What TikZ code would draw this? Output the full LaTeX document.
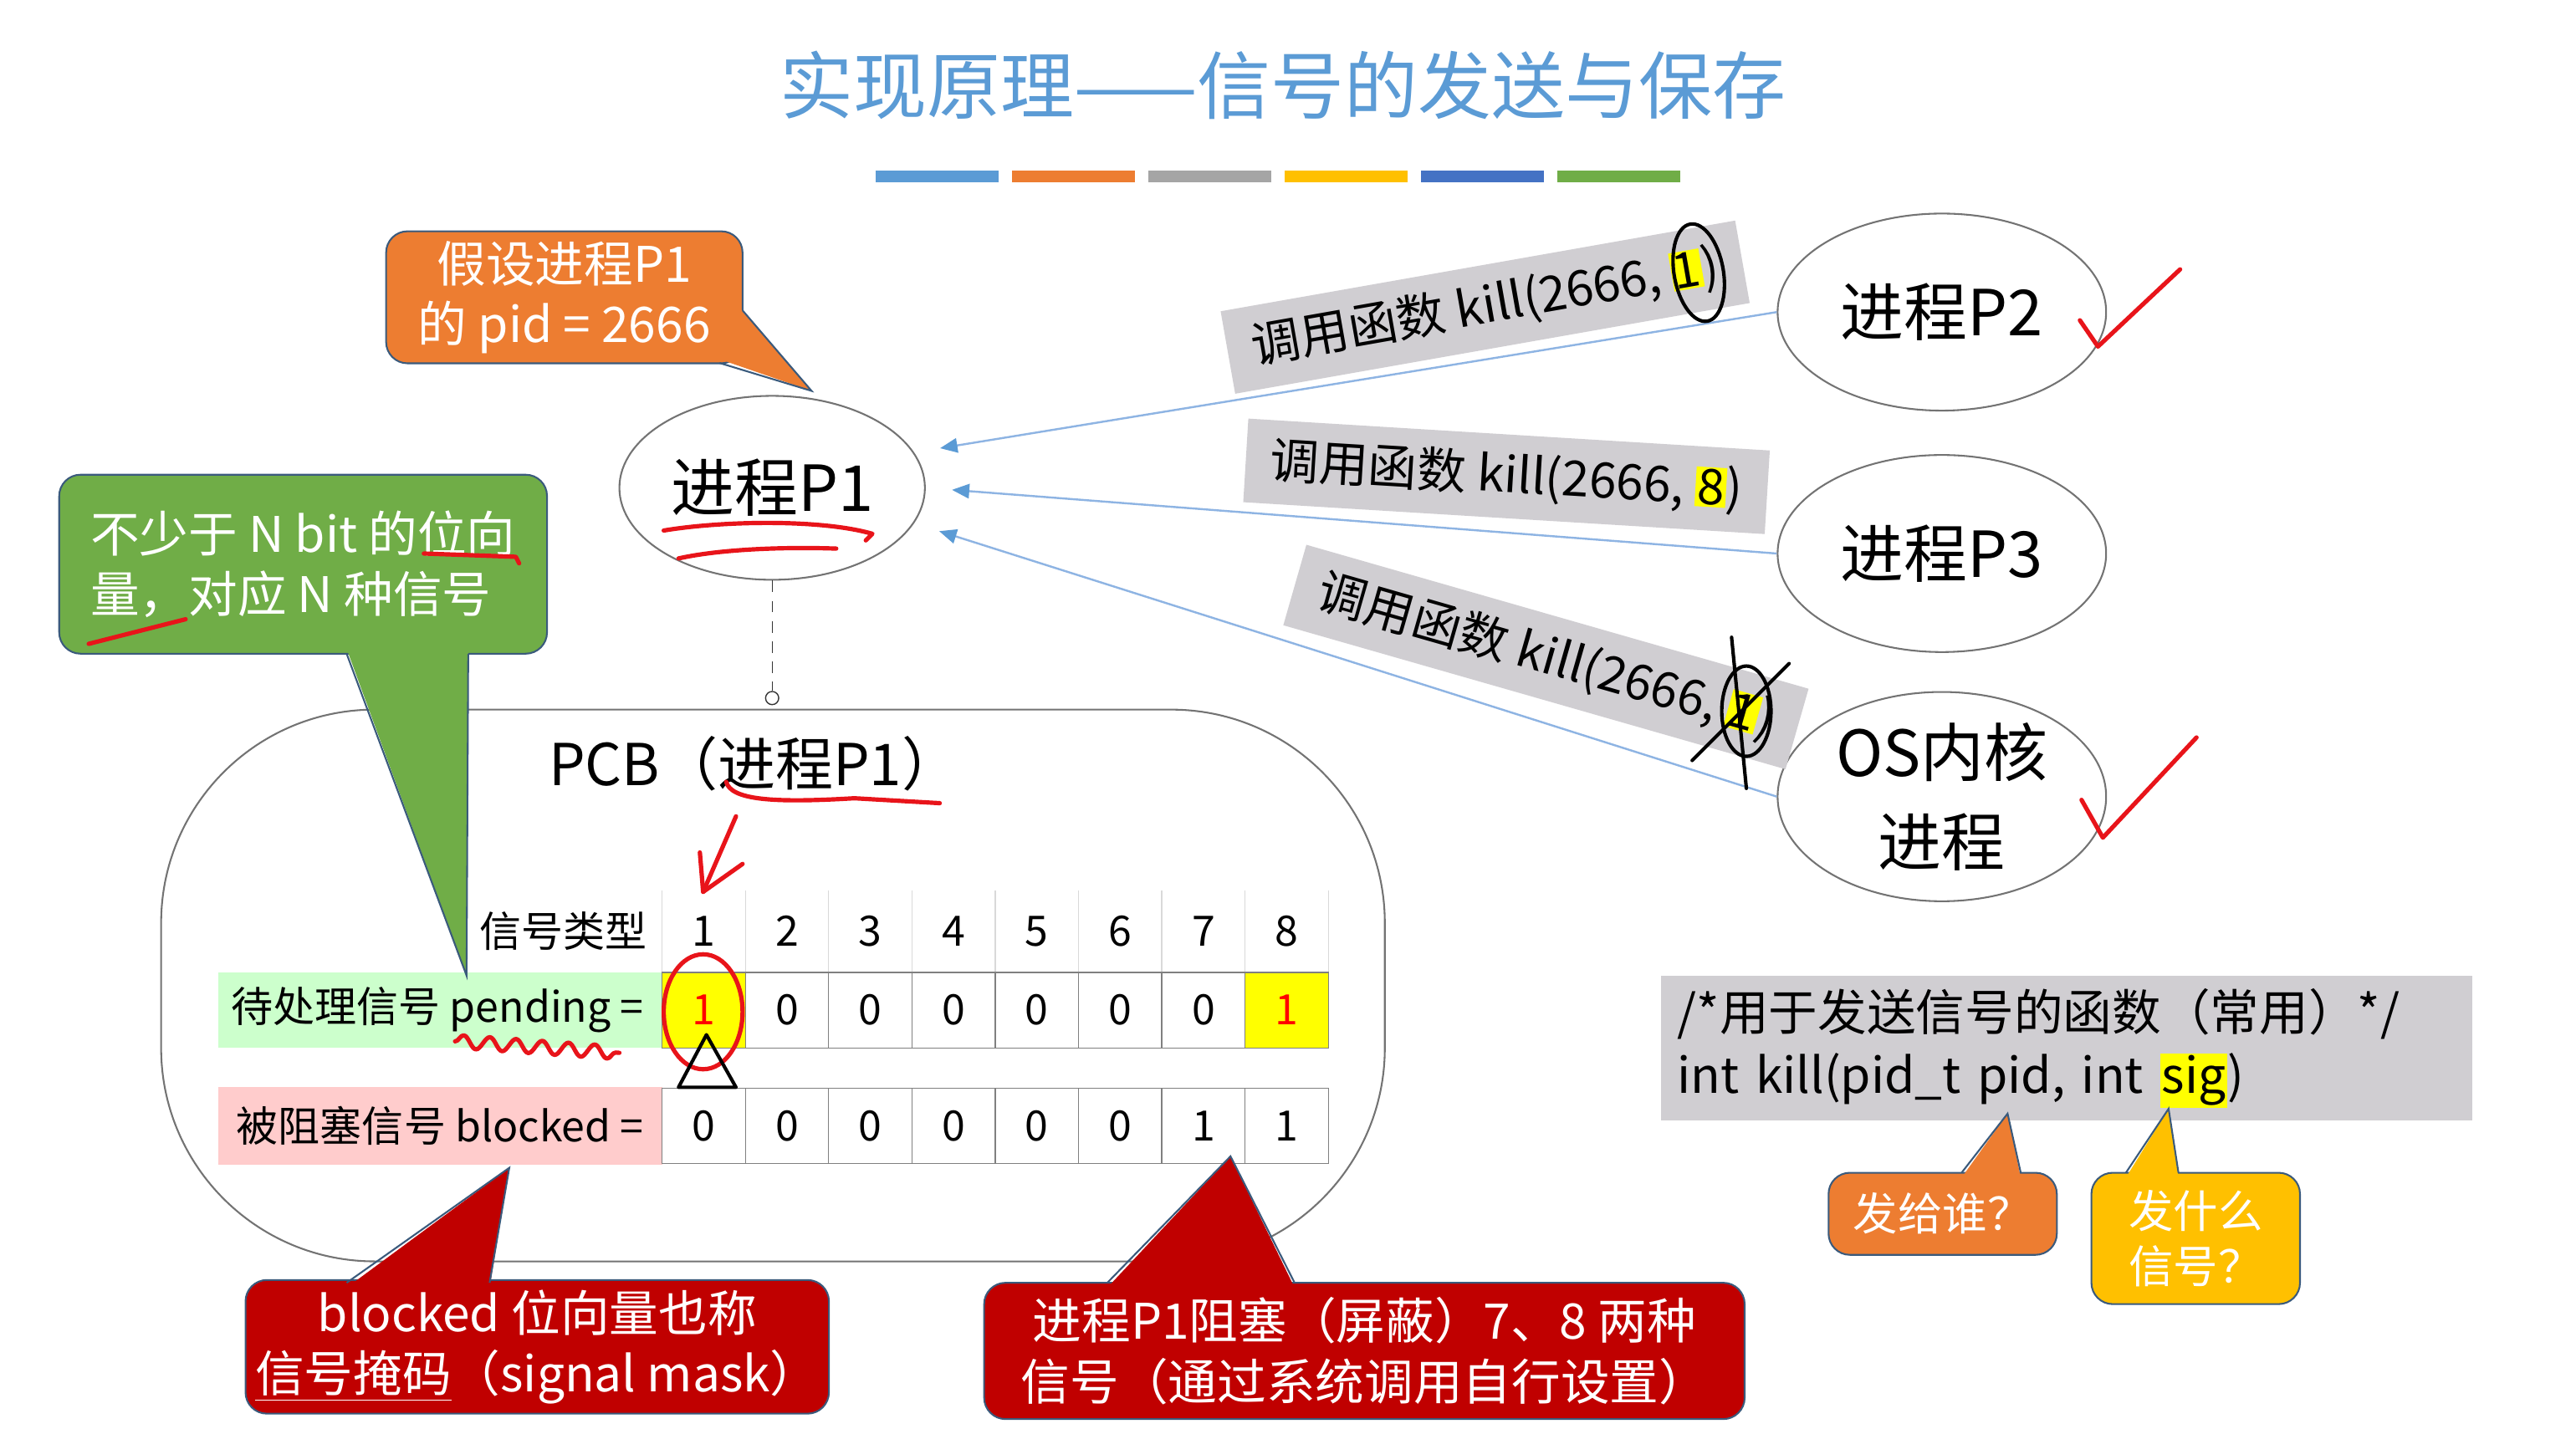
\documentclass[tikz,border=0pt]{standalone}
\usepackage{fontspec}
\setmainfont{Noto Sans CJK SC}
\usetikzlibrary{shapes.geometric, arrows.meta, decorations.pathmorphing}

\definecolor{titleblue}{HTML}{5B9BD5}
\definecolor{accorange}{HTML}{ED7D31}
\definecolor{accgray}{HTML}{A5A5A5}
\definecolor{accgold}{HTML}{FFC000}
\definecolor{accblue}{HTML}{4472C4}
\definecolor{accgreen}{HTML}{70AD47}
\definecolor{accred}{HTML}{C00000}
\definecolor{edgeblue}{HTML}{3A5A7C}
\definecolor{lblgray}{HTML}{D0CED2}
\definecolor{hlyellow}{HTML}{FFFF00}
\definecolor{pendgreen}{HTML}{CCFFCC}
\definecolor{blkpink}{HTML}{FFCCCC}
\definecolor{linkblue}{HTML}{8EB4E3}
\definecolor{inkred}{HTML}{E8141A}

\newcommand{\hl}[1]{{\setlength{\fboxsep}{0.6pt}\colorbox{hlyellow}{#1}}}

\tikzset{
  proc/.style={ellipse, draw=black!55, line width=0.6pt, inner sep=0pt,
    font=\fontsize{22}{31}\selectfont, align=center},
  sigline/.style={linkblue, line width=0.7pt,
    -{Triangle[length=6pt,width=5pt,color=titleblue]}, shorten >=0.32cm},
  calllbl/.style={fill=lblgray, font=\fontsize{17}{20}\selectfont,
    inner xsep=0.3cm, inner ysep=0.2cm},
  callbox/.style={rounded corners=0.26cm, draw=edgeblue, line width=0.6pt,
    text=white, align=center, font=\fontsize{17}{21}\selectfont},
  tailedge/.style={edgeblue, line width=0.6pt},
  cell/.style={draw=black!50, minimum width=1.014cm, minimum height=0.92cm,
    inner sep=0pt, font=\fontsize{14.5}{16}\selectfont},
  ink/.style={inkred, line width=1.5pt, line cap=round, line join=round},
  pen/.style={black, line width=1.2pt, line cap=round, line join=round}
}

\begin{document}
\begin{tikzpicture}[x=0.02cm, y=-0.02cm]
  \useasboundingbox (0,0) rectangle (1568,873);
  \fill[white] (0,0) rectangle (1568,873);

  % title and colour bars
  \node[text=titleblue, font=\fontsize{25.5}{30}\selectfont] (title) at (781,52) {实现原理——信号的发送与保存};
  \foreach \c [count=\i] in {titleblue,accorange,accgray,accgold,accblue,accgreen}
    \fill[\c] ({533+83*(\i-1)},104) rectangle +(75,7);

  % processes
  \node[proc, minimum width=3.72cm, minimum height=2.24cm] (p1) at (470,297) {进程P1};
  \node[proc, minimum width=4cm, minimum height=2.4cm] (p2) at (1182,190) {进程P2};
  \node[proc, minimum width=4cm, minimum height=2.4cm] (p3) at (1182,337) {进程P3};
  \node[proc, minimum width=4cm, minimum height=2.4cm] (os) at (1182,485) {OS内核\\进程};

  % kill calls
  \draw[sigline] (p2.west) -- (p1.14);
  \draw[sigline] (p3.west) -- (p1.east);
  \draw[sigline] (os.west) -- (p1.-14);
  \node[calllbl, rotate=10] (killa) at (904,187) {调用函数 kill(2666, \hl{1})};
  \node[calllbl, rotate=-3.5] (killb) at (917,290) {调用函数 kill(2666, \hl{8})};
  \node[calllbl, rotate=-16] (killc) at (941,400) {调用函数 kill(2666, \hl{1})};

  % pid note
  \node[callbox, fill=accorange, minimum width=4.34cm, minimum height=1.6cm] (pidnote) at (343.5,181) {假设进程P1\\的 pid = 2666};
  \fill[accorange] (449,186) -- (494,238) -- (436,218) -- cycle;
  \draw[tailedge] (452,189) -- (494,238) -- (438,221);

  % PCB
  \node[circle, draw=black!80, fill=white, inner sep=0pt, minimum size=0.16cm] (pcbdot) at (470,425) {};
  \draw[black!80, dash pattern=on 4pt off 3pt] (p1.south) -- (pcbdot.north);
  \node[draw=black!55, line width=0.6pt, rounded corners=2.6cm, minimum width=14.9cm, minimum height=6.72cm] (pcb) at (470.5,600) {};
  \node[font=\fontsize{20}{24}\selectfont] (pcbtitle) at (459,465) {PCB（进程P1）};

  % signal table
  \node[font=\fontsize{14.5}{16}\selectfont] (sigtype) at (343,567) {信号类型};
  \foreach \k in {0,...,8}
    \draw[black!15] ({403+50.7*\k},542) -- ({403+50.7*\k},592);
  \fill[pendgreen] (133,592) rectangle (403,638);
  \fill[blkpink] (133,662) rectangle (403,709);
  \node[anchor=east, font=\fontsize{14.5}{16}\selectfont] (pendlbl) at (398,615) {待处理信号 pending =};
  \node[anchor=east, font=\fontsize{14.5}{16}\selectfont] (blklbl) at (398,685.5) {被阻塞信号 blocked =};
  \foreach \i in {1,...,8}
    \node[font=\fontsize{14.5}{16}\selectfont] (hdr\i) at ({428.35+50.7*(\i-1)},567) {\i};
  \foreach \v/\f/\c [count=\i] in {1/hlyellow/red,0/white/black,0/white/black,0/white/black,
                                   0/white/black,0/white/black,0/white/black,1/hlyellow/red}
    \node[cell, fill=\f, text=\c] (pend\i) at ({428.35+50.7*(\i-1)},615) {\v};
  \foreach \v [count=\i] in {0,0,0,0,0,0,1,1}
    \node[cell, fill=white] (blk\i) at ({428.35+50.7*(\i-1)},685.5) {\v};

  % bit vector note
  \node[callbox, fill=accgreen, align=left, minimum width=5.94cm, minimum height=2.18cm] (bitnote) at (184.5,343.5) {不少于 N bit 的位向\\量，对应 N 种信号};
  \fill[accgreen] (211,395) -- (284,594) -- (285,395) -- cycle;
  \draw[tailedge] (211,398) -- (284,594) -- (285,398);

  % mask notes
  \node[callbox, fill=accred, minimum width=6.92cm, minimum height=1.56cm] (masknote) at (327,820) {blocked 位向量也称\\\underline{信号掩码}（signal mask）};
  \fill[accred] (211,784) -- (310,711) -- (298,784) -- cycle;
  \draw[tailedge] (211,781) -- (310,711) -- (298,781);
  \node[callbox, fill=accred, minimum width=9.26cm, minimum height=1.66cm] (blknote) at (830.5,822.5) {进程P1阻塞（屏蔽）7、8 两种\\信号（通过系统调用自行设置）};
  \fill[accred] (674,784) -- (749,704) -- (788,784) -- cycle;
  \draw[tailedge] (674,781) -- (749,704) -- (788,781);

  % kill prototype
  \node[fill=lblgray, minimum width=9.88cm, minimum height=1.76cm, text width=9.48cm, inner xsep=0.2cm,
    align=left, font=\fontsize{17}{22}\selectfont] (code) at (1258,638) {/*用于发送信号的函数（常用）*/\\int kill(pid\_t pid, int \hl{sig})};
  \node[callbox, fill=accorange, minimum width=2.78cm, minimum height=1cm, font=\fontsize{15.5}{19}\selectfont] (whonote) at (1182.5,739) {发给谁？};
  \fill[accorange] (1194,717) -- (1222,678) -- (1230,717) -- cycle;
  \draw[tailedge] (1194,714) -- (1222,678) -- (1230,714);
  \node[callbox, fill=accgold, minimum width=2.54cm, minimum height=1.6cm, font=\fontsize{15.5}{19}\selectfont] (whatnote) at (1336.5,754) {发什么\\信号？};
  \fill[accgold] (1294,717) -- (1320,675) -- (1326,717) -- cycle;
  \draw[tailedge] (1294,714) -- (1320,675) -- (1326,714);

  % hand marks
  \draw[ink] (404,323) .. controls (440,317) and (500,316) .. (531,325) -- (527,329);
  \draw[ink] (413,340) .. controls (440,334) and (480,333) .. (509,334);
  \draw[ink] (258,337) -- (314,339) -- (316,343);
  \draw[ink] (54,392) -- (113,377);
  \draw[ink] (442,476) .. controls (445,487) and (470,489) .. (520,486) -- (572,489);
  \draw[ink] (448,497) -- (428,543);
  \draw[ink] (426,519) -- (428,543) -- (452,526);
  \draw[ink] (428,616) ellipse [x radius=0.48cm, y radius=0.7cm];
  \draw[ink, decorate, decoration={snake, segment length=0.32cm, amplitude=0.08cm}] (277,634) -- (377,641);
  \draw[pen] (430,630) -- (413,662) -- (448,662) -- cycle;
  \draw[pen, rotate around={10:(1034,166)}] (1034,166) ellipse [x radius=0.3cm, y radius=0.6cm];
  \draw[pen] (1063,433) ellipse [x radius=0.3cm, y radius=0.55cm];
  \draw[pen] (1054,388) -- (1063,480);
  \draw[pen] (1030,463) -- (1089,404);
  \draw[ink] (1266,195) -- (1277,211) -- (1327,164);
  \draw[ink] (1267,487) -- (1280,510) -- (1337,449);
\end{tikzpicture}
\end{document}
